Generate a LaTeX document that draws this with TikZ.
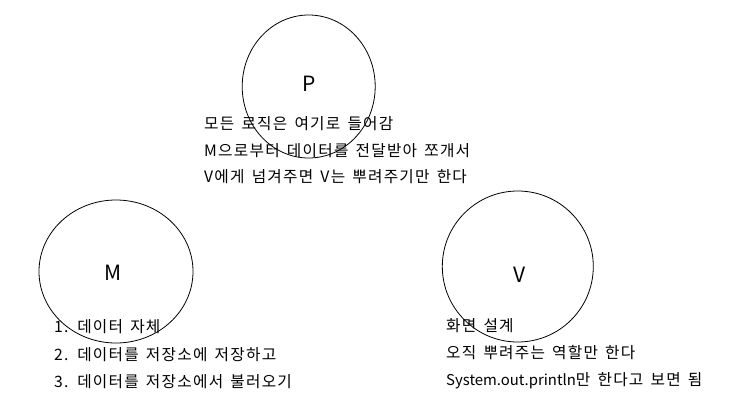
\documentclass[tikz,border=0pt]{standalone}
\usepackage{fontspec}
\setmainfont{Noto Sans CJK KR}[WordSpace=1.5,LetterSpace=8]
\newfontfamily\codefont{Noto Sans CJK KR}
\usetikzlibrary{shapes.geometric}

\tikzset{
  role/.style={draw,ellipse,inner sep=0pt,line width=.8pt},
  letter/.style={font=\fontsize{21}{21}\selectfont},
  note/.style={anchor=base west,inner sep=0pt,font=\fontsize{15.7}{15.7}\selectfont}
}

\begin{document}
\begin{tikzpicture}[x=1pt,y=-1pt]
  \useasboundingbox (0,0) rectangle (735,418);
  % P
  \node[role,minimum width=133,minimum height=143] (p) at (308.7,86.5){};
  \node[letter] (pname) at (309,84){P};
  \node[note] (p1) at (204,129){모든 로직은 여기로 들어감};
  \node[note] (p2) at (204,156){M으로부터 데이터를 전달받아 쪼개서};
  \node[note] (p3) at (204,182){V에게 넘겨주면 V는 뿌려주기만 한다};
  % M
  \node[role,minimum width=154,minimum height=143] (m) at (116,271.5){};
  \node[letter] (mname) at (113,273){M};
  \node[note] (m1) at (54,332){1. 데이터 자체};
  \node[note] (m2) at (54,360){2. 데이터를 저장소에 저장하고};
  \node[note] (m3) at (54,387){3. 데이터를 저장소에서 불러오기};
  % V
  \node[role,minimum width=151,minimum height=151] (v) at (517.8,266.5){};
  \node[letter] (vname) at (520,275){V};
  \node[note] (v1) at (446,331){화면 설계};
  \node[note] (v2) at (446,358){오직 뿌려주는 역할만 한다};
  \node[note] (v3) at (446,385){{\codefont\fontsize{14.9}{14.9}\selectfont System.out.println}만 한다고 보면 됨};
\end{tikzpicture}
\end{document}
